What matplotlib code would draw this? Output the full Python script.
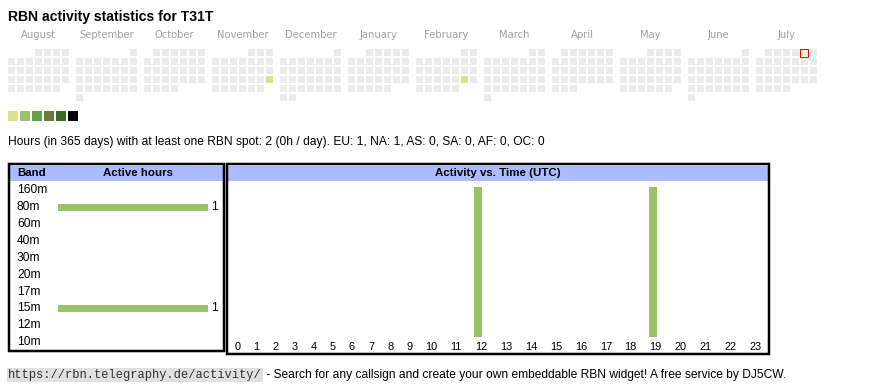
import calendar
import datetime as dt
import numpy as np
import matplotlib
matplotlib.use('Agg')
import matplotlib.pyplot as plt
from matplotlib.patches import Rectangle
from matplotlib.transforms import blended_transform_factory as blend

# ---------------- data ----------------
title = 'RBN activity statistics for T31T'
months = ['August', 'September', 'October', 'November', 'December', 'January',
          'February', 'March', 'April', 'May', 'June', 'July']
month_years = [2024, 2024, 2024, 2024, 2024, 2025, 2025, 2025, 2025, 2025, 2025, 2025]
month_numbers = [8, 9, 10, 11, 12, 1, 2, 3, 4, 5, 6, 7]
active_days = ['2024-11-24', '2025-02-22']
active_levels = [0, 0]
today = '2025-07-05'
level_colors = ['#dce28a', '#9dc46b', '#68a046', '#6b7c3b', '#3c6b28', '#000000']

total_hours = 2
hours_per_day = 0
continents = ['EU', 'NA', 'AS', 'SA', 'AF', 'OC']
continent_hours = [1, 1, 0, 0, 0, 0]

bands = ['160m', '80m', '60m', '40m', '30m', '20m', '17m', '15m', '12m', '10m']
band_hours = [0, 1, 0, 0, 0, 0, 0, 1, 0, 0]

hour_labels = ['0', '1', '2', '3', '4', '5', '6', '7', '8', '9', '10', '11',
               '12', '13', '14', '15', '16', '17', '18', '19', '20', '21', '22', '23']
hour_activity = [0, 0, 0, 0, 0, 0, 0, 0, 0, 0, 0, 0, 1, 0, 0, 0, 0, 0, 0, 1, 0, 0, 0, 0]

footer_url = 'https://rbn.telegraphy.de/activity/'
footer_text = ' - Search for any callsign and create your own embeddable RBN widget! A free service by DJ5CW.'

# ---------------- style ----------------
W, H = 870, 390
PT = 0.72  # points per pixel at dpi 100
SANS = ['Liberation Sans', 'DejaVu Sans']
EMPTY = '#ebebeb'
BAR = '#9bc06a'
HEAD = '#aabbff'

fig = plt.figure(figsize=(W / 100, H / 100), dpi=100)
bg = fig.add_axes([0, 0, 1, 1])
bg.set_xlim(0, W)
bg.set_ylim(H, 0)
bg.axis('off')


def fax(x0, y0, x1, y1):
    return fig.add_axes([x0 / W, 1 - y1 / H, (x1 - x0) / W, (y1 - y0) / H])


# title
bg.text(8, 16.5, title, fontsize=14 * PT, fontweight='bold', family=SANS,
        ha='left', va='center', color='#000000')

# calendar
active_map = {dt.date.fromisoformat(d): lv for d, lv in zip(active_days, active_levels)}
today_d = dt.date.fromisoformat(today)
for m, (name, yr, mn) in enumerate(zip(months, month_years, month_numbers)):
    x0 = 8 + 68 * m
    bg.text(x0 + 30.5, 35, name, fontsize=10 * PT, family=['DejaVu Sans'],
            ha='center', va='center', color='#a0a0a0')
    first = dt.date(yr, mn, 1)
    off = first.weekday()
    ndays = calendar.monthrange(yr, mn)[1]
    for d in range(ndays):
        r, c = divmod(off + d, 7)
        day = first + dt.timedelta(days=d)
        col = level_colors[active_map[day]] if day in active_map else EMPTY
        cx, cy = x0 + 9 * c, 49 + 9 * r
        bg.add_patch(Rectangle((cx, cy), 7, 7, fc=col, ec='none'))
        if day == today_d:
            bg.add_patch(Rectangle((cx - 0.5, cy - 0.5), 8, 8, fc='none',
                                   ec='#ff0000', lw=1 * PT))

# legend swatches
for i, col in enumerate(level_colors):
    bg.add_patch(Rectangle((8 + 12 * i, 111), 10, 10, fc=col, ec='none'))

# summary line
summary = ('Hours (in 365 days) with at least one RBN spot: %d (%dh / day). ' % (total_hours, hours_per_day)
           + ', '.join('%s: %d' % (c, v) for c, v in zip(continents, continent_hours)))
bg.text(8, 142.5, summary, fontsize=12 * PT, family=SANS, ha='left', va='center', color='#000000')

# ---------------- band table ----------------
bg.add_patch(Rectangle((10, 166), 213, 15, fc=HEAD, ec='none'))
bg.add_patch(Rectangle((9.25, 164.25), 214.5, 186.5, fc='none', ec='#000000', lw=2.5 * PT))
bg.text(17, 173.5, 'Band', fontsize=11.5 * PT, fontweight='bold', family=SANS,
        ha='left', va='center')
bg.text(138, 173.5, 'Active hours', fontsize=11.5 * PT, fontweight='bold', family=SANS,
        ha='center', va='center')

row_h = 16.88
ax_b = fax(58, 181.8, 208, 181.8 + row_h * len(bands))
ax_b.set_ylim(len(bands) - 0.5, -0.5)
ax_b.set_xlim(0, max(band_hours))
ax_b.axis('off')
ax_b.patch.set_alpha(0)
yb = np.arange(len(bands))
ax_b.barh(yb, band_hours, height=7 / row_h, color=BAR, linewidth=0)
lab_tr = blend(bg.transData, ax_b.transData)
for i, (b, v) in enumerate(zip(bands, band_hours)):
    ax_b.text(17, i, b, transform=lab_tr, fontsize=12 * PT, family=SANS,
              ha='left', va='center', clip_on=False)
    if v > 0:
        ax_b.annotate(str(v), (v, i), xytext=(3 * PT, 0), textcoords='offset points',
                      fontsize=12 * PT, family=SANS, ha='left', va='center',
                      annotation_clip=False)

# ---------------- hour chart ----------------
bg.add_patch(Rectangle((228, 166), 540, 15, fc=HEAD, ec='none'))
bg.add_patch(Rectangle((227.25, 164.25), 541.5, 189.5, fc='none', ec='#000000', lw=2.5 * PT))
bg.text(498, 173.5, 'Activity vs. Time (UTC)', fontsize=11.5 * PT, fontweight='bold',
        family=SANS, ha='center', va='center')

widths = np.array([13.2 + 5.88 * len(l) for l in hour_labels])
lefts = np.concatenate([[0], np.cumsum(widths)[:-1]])
total = widths.sum()
scale = total / 540.0
ax_h = fax(228, 187, 768, 337)
ax_h.set_xlim(0, total)
ax_h.set_ylim(0, max(hour_activity))
ax_h.axis('off')
ax_h.patch.set_alpha(0)
ax_h.bar(lefts + 5.5 * scale, hour_activity, width=8 * scale, align='edge',
         color=BAR, linewidth=0)
tick_tr = blend(ax_h.transData, bg.transData)
for l, x, w in zip(hour_labels, lefts, widths):
    ax_h.text(x + w / 2, 346.5, l, transform=tick_tr, fontsize=11 * PT, family=SANS,
              ha='center', va='center', clip_on=False)

# ---------------- footer ----------------
url_t = bg.text(8, 375, footer_url, fontsize=12 * PT, family=['Liberation Mono', 'DejaVu Sans Mono'],
                ha='left', va='center', color='#333333',
                bbox=dict(boxstyle='square,pad=0.12', fc='#e0e0e0', ec='none'))
fig.canvas.draw()
bb = url_t.get_window_extent()
x_end = bg.transData.inverted().transform((bb.x1, bb.y0))[0]
bg.text(x_end + 1, 375, footer_text, fontsize=12 * PT, family=SANS,
        ha='left', va='center', color='#000000')

fig.savefig('out.png', dpi=100)
